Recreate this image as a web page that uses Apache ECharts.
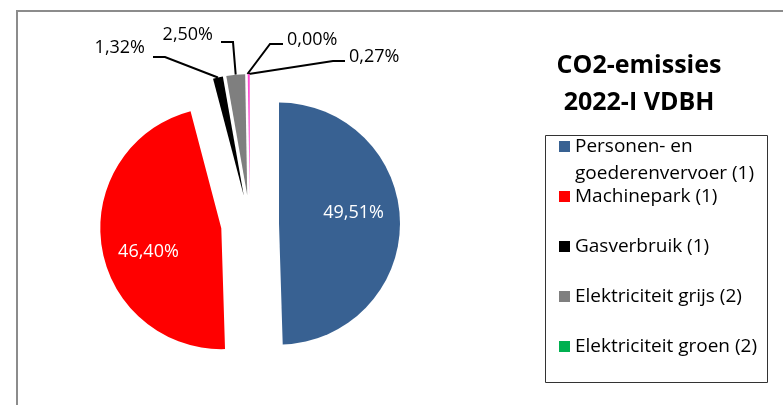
<!DOCTYPE html>
<html>
<head>
<meta charset="utf-8">
<script src="https://cdn.jsdelivr.net/npm/echarts@6/dist/echarts.min.js"></script>
<style>
html, body { margin: 0; padding: 0; background: #fff; }
#chart { width: 783px; height: 405px; }
</style>
</head>
<body>
<div id="chart"></div>
<script>
// CO2-emissies 2022-I, aandeel per bron (%)
const categories = ['Personen- en\ngoederenvervoer (1)', 'Machinepark (1)', 'Gasverbruik (1)',
    'Elektriciteit grijs (2)', 'Elektriciteit groen (2)', 'Overig'];
const shares = [49.51, 46.40, 1.32, 2.50, 0.00, 0.27];
const sliceColors = ['#386192', '#ff0000', '#000000', '#7f7f7f', '#00b050', '#ff4dd2'];
const legendNames = categories.slice(0, 5);

const fontFamily = '"Open Sans", Lato, sans-serif';
const pieCenter = [250, 224];
const pieRadius = 121;
const explode = 29;

// plaatsing van de buitenlabels (zoals in excel)
const outside = {
    2: {x: 145, y: 48, align: 'right', elbow: [165, 57], end: [153, 57]},
    3: {x: 213, y: 35, align: 'right', elbow: [233, 42], end: [221, 42]},
    4: {x: 287, y: 40, align: 'left', elbow: [270, 44], end: [283, 44]},
    5: {x: 349, y: 57, align: 'left', elbow: [333, 61], end: [345, 61]}
};
const insideShift = {0: [11, -10], 1: [-10, 15]};

function pct(v) {
    return v.toFixed(2).replace('.', ',') + '%';
}

const chart = echarts.init(document.getElementById('chart'));

const total = shares.reduce(function(a, b) { return a + b; }, 0);

// elk stuk krijgt een eigen serie, zodat het naar buiten geschoven kan worden
let acc = 0;
const pieSeries = shares.map(function(v, k) {
    const mid = (acc + v / 2) / total * Math.PI * 2;
    acc += v;
    const center = [pieCenter[0] + explode * Math.sin(mid), pieCenter[1] - explode * Math.cos(mid)];
    const data = shares.map(function(w, i) {
        const item = {name: categories[i], value: w};
        if (i !== k) {
            item.itemStyle = {color: 'rgba(0,0,0,0)'};
            item.label = {show: false};
            item.labelLine = {show: false};
        } else {
            item.itemStyle = {color: sliceColors[i]};
            if (i < 2) {
                item.label = {show: true, position: 'inside', color: '#fff'};
            } else {
                item.label = {show: true, position: 'outside'};
                item.labelLine = {show: true};
            }
        }
        return item;
    });
    return {
        type: 'pie',
        center: center,
        radius: pieRadius,
        startAngle: 90,
        clockwise: true,
        silent: true,
        avoidLabelOverlap: false,
        emphasis: {disabled: true},
        itemStyle: {borderWidth: 0},
        label: {
            fontFamily: fontFamily,
            fontSize: 18,
            color: '#000',
            formatter: function(p) { return pct(p.value); }
        },
        labelLine: {
            length: 20,
            length2: 10,
            lineStyle: {color: '#000', width: 2}
        },
        labelLayout: function(params) {
            const i = params.dataIndex;
            if (i !== k) return {};
            if (insideShift[i]) return {dx: insideShift[i][0], dy: insideShift[i][1]};
            const o = outside[i];
            const pts = params.labelLinePoints;
            const p0 = pts ? pts[0] : o.elbow;
            return {
                x: o.x,
                y: o.y,
                align: o.align,
                verticalAlign: 'middle',
                labelLinePoints: [p0, o.elbow, o.end]
            };
        },
        data: data
    };
});

// vierkantje bovenaan een hoog icoon, zodat het bij de eerste tekstregel staat
const legendIcon = 'path://M0,0L11,0L11,11L0,11Z M0,38L0.01,38L0,38.01Z';

const legendData = legendNames.map(function(n, i) {
    return {name: n, icon: legendIcon, itemStyle: {color: sliceColors[i]}};
});

chart.setOption({
    animation: false,
    title: {
        text: 'CO2-emissies\n2022-I VDBH',
        left: 634,
        top: 42,
        textAlign: 'center',
        textStyle: {
            fontFamily: fontFamily,
            fontSize: 25,
            fontWeight: 'bold',
            color: '#000',
            lineHeight: 37
        }
    },
    legend: {
        orient: 'vertical',
        left: 559,
        top: 133,
        padding: 0,
        itemGap: -4,
        itemWidth: 11,
        itemHeight: 38,
        selectedMode: false,
        data: legendData,
        formatter: function(name) {
            return name.indexOf('\n') >= 0 ? name : name + '\n\u00a0';
        },
        textStyle: {
            fontFamily: fontFamily,
            fontSize: 19,
            color: '#000',
            lineHeight: 27
        }
    },
    graphic: [
        {
            type: 'rect',
            shape: {x: 17, y: 11, width: 800, height: 420},
            style: {fill: null, stroke: '#8c8c8c', lineWidth: 2},
            silent: true
        },
        {
            type: 'rect',
            shape: {x: 545.5, y: 135.5, width: 222, height: 247},
            style: {fill: null, stroke: '#333', lineWidth: 1},
            silent: true
        }
    ],
    series: pieSeries
});
</script>
</body>
</html>
